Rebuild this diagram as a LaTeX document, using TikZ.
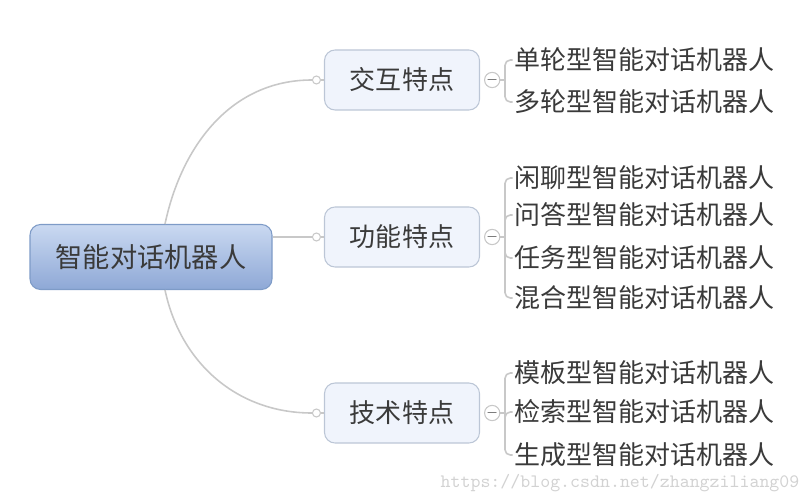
\documentclass[tikz,border=0pt]{standalone}
\usepackage{fontspec}
\newfontfamily\cjk{Noto Sans CJK SC}
\usetikzlibrary{positioning}
\definecolor{tekst}{HTML}{3A3A3A}
\definecolor{linija}{HTML}{C8C8C8}
\definecolor{okvir}{HTML}{BCC6D6}
\definecolor{plavo}{HTML}{F0F4FC}
\definecolor{korenG}{HTML}{CAD9F1}
\definecolor{korenD}{HTML}{8EA8D6}
\definecolor{korenO}{HTML}{7E9BC7}
\definecolor{znak}{HTML}{D2D2D2}
\begin{document}
\begin{tikzpicture}[font=\cjk\fontsize{14.8}{18}\selectfont, text=tekst,
    koren/.style={rectangle, rounded corners=6pt, draw=korenO, line width=0.6pt,
                  top color=korenG, bottom color=korenD,
                  minimum width=4.84cm, minimum height=1.30cm, text centered},
    grana/.style={rectangle, rounded corners=6pt, draw=okvir, line width=0.6pt, fill=plavo,
                  minimum width=3.10cm, minimum height=1.20cm, text centered},
    list/.style={anchor=west, inner sep=1pt},
    kuka/.style={circle, draw=linija, fill=white, line width=0.6pt, inner sep=0pt, minimum size=0.16cm},
    sklop/.style={circle, draw=linija, fill=white, line width=0.6pt, inner sep=0pt, minimum size=0.30cm,
                  font=\sffamily\fontsize{8}{8}\selectfont},
    veza/.style={draw=linija, line width=0.9pt},
    zagrada/.style={draw=linija, line width=0.9pt, rounded corners=3pt}]

    \useasboundingbox (0,0) rectangle (16.2,10.04);

    \node (root)  [koren] at (3.02,4.90) {\fontsize{15.5}{18}\selectfont 智能对话机器人};
    \node (inter) [grana] at (8.04,8.44) {交互特点};
    \node (func)  [grana] at (8.04,5.30) {功能特点};
    \node (tech)  [grana] at (8.04,1.78) {技术特点};

    \node (kI) [kuka, left=0.06cm of inter] {};
    \node (kF) [kuka, left=0.06cm of func]  {};
    \node (kT) [kuka, left=0.06cm of tech]  {};
    \node (sI) [sklop, right=0.08cm of inter] {$-$};
    \node (sF) [sklop, right=0.08cm of func]  {$-$};
    \node (sT) [sklop, right=0.08cm of tech]  {$-$};

    \coordinate (hI) at (10.10,8.44);
    \coordinate (hF) at (10.10,5.30);
    \coordinate (hT) at (10.10,1.78);

    \node (l1) [list] at (10.25,8.84) {单轮型智能对话机器人};
    \node (l2) [list] at (10.25,8.00) {多轮型智能对话机器人};
    \node (l3) [list] at (10.25,6.48) {闲聊型智能对话机器人};
    \node (l4) [list] at (10.25,5.74) {问答型智能对话机器人};
    \node (l5) [list] at (10.25,4.88) {任务型智能对话机器人};
    \node (l6) [list] at (10.25,4.08) {混合型智能对话机器人};
    \node (l7) [list] at (10.25,2.58) {模板型智能对话机器人};
    \node (l8) [list] at (10.25,1.80) {检索型智能对话机器人};
    \node (l9) [list] at (10.25,0.94) {生成型智能对话机器人};

    % grane
    \draw [veza] ([xshift=0.28cm]root.north) to[out=78, in=180] (kI);
    \draw [veza] (root.east |- kF) -- (kF);
    \draw [veza] ([xshift=0.28cm]root.south) to[out=-78, in=180] (kT);
    \draw [veza] (kI) -- (inter);
    \draw [veza] (kF) -- (func);
    \draw [veza] (kT) -- (tech);

    % zagrade
    \draw [veza] (sI) -- (hI);
    \draw [veza] (sF) -- (hF);
    \draw [veza] (sT) -- (hT);
    \draw [zagrada] (hI) |- (l1.west);
    \draw [zagrada] (hI) |- (l2.west);
    \draw [zagrada] (hF) |- (l3.west);
    \draw [zagrada] (hF) |- (l4.west);
    \draw [zagrada] (hF) |- (l5.west);
    \draw [zagrada] (hF) |- (l6.west);
    \draw [zagrada] (hT) |- (l7.west);
    \draw [zagrada] (hT) |- (l8.west);
    \draw [zagrada] (hT) |- (l9.west);

    \node (url) [font=\ttfamily\fontsize{10.8}{12}\selectfont, text=znak] at (12.40,0.38) {https://blog.csdn.net/zhangziliang09};
\end{tikzpicture}
\end{document}
